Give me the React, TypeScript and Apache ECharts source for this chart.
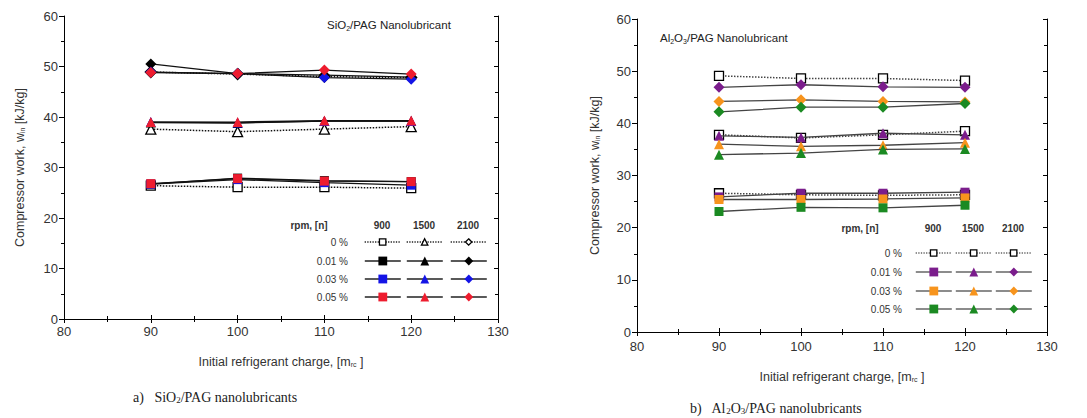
import React, { useEffect, useRef } from "react";
import * as echarts from "echarts";

const charges = [90, 100, 110, 120];
const rpmLabels = ["900", "1500", "2100"];
const concLabels = ["0 %", "0.01 %", "0.03 %", "0.05 %"];

// SiO2/PAG (left panel) compressor work [kJ/kg]
const sio2_0_900 = [26.4, 26.1, 26.1, 25.9];
const sio2_0_1500 = [37.6, 37.1, 37.6, 38.1];
const sio2_0_2100 = [48.9, 48.5, 48.0, 47.8];
const sio2_001_900 = [26.7, 27.9, 27.4, 27.2];
const sio2_001_1500 = [38.9, 38.8, 39.2, 39.2];
const sio2_001_2100 = [50.5, 48.6, 48.3, 47.9];
const sio2_003_900 = [26.7, 27.6, 27.0, 26.5];
const sio2_003_1500 = [39.0, 38.9, 39.2, 39.2];
const sio2_003_2100 = [48.9, 48.6, 47.8, 47.5];
const sio2_005_900 = [26.8, 27.8, 27.3, 27.2];
const sio2_005_1500 = [39.0, 39.0, 39.3, 39.3];
const sio2_005_2100 = [48.8, 48.6, 49.3, 48.5];

// Al2O3/PAG (right panel) compressor work [kJ/kg]
const al_0_900 = [26.6, 26.3, 26.2, 26.3];
const al_0_1500 = [37.8, 37.2, 37.8, 38.5];
const al_0_2100 = [49.1, 48.6, 48.6, 48.2];
const al_001_900 = [25.9, 26.6, 26.6, 26.8];
const al_001_1500 = [37.6, 37.3, 38.1, 37.8];
const al_001_2100 = [46.9, 47.4, 47.0, 46.9];
const al_003_900 = [25.4, 25.4, 25.5, 25.7];
const al_003_1500 = [36.0, 35.6, 35.8, 36.3];
const al_003_2100 = [44.2, 44.5, 44.2, 44.1];
const al_005_900 = [23.1, 23.9, 23.8, 24.3];
const al_005_1500 = [34.0, 34.3, 35.0, 35.1];
const al_005_2100 = [42.2, 43.1, 43.1, 43.8];

const FONT = "Liberation Sans";

export default function App() {
  const ref = useRef<HTMLDivElement>(null);
  useEffect(() => {
    if (!ref.current) return;
    const chart = echarts.init(ref.current, undefined, { renderer: "svg" });

    const series: any[] = [];
    const legends: any[] = [];

    const leftColors = ["#ffffff", "#000000", "#1414e6", "#ee1c2e"];
    const rightColors = ["#ffffff", "#7b1d8c", "#f7941d", "#1b8a22"];
    const syms = ["rect", "triangle", "diamond"];

    const leftData = [
      [sio2_0_900, sio2_0_1500, sio2_0_2100],
      [sio2_001_900, sio2_001_1500, sio2_001_2100],
      [sio2_003_900, sio2_003_1500, sio2_003_2100],
      [sio2_005_900, sio2_005_1500, sio2_005_2100],
    ];
    const rightData = [
      [al_0_900, al_0_1500, al_0_2100],
      [al_001_900, al_001_1500, al_001_2100],
      [al_003_900, al_003_1500, al_003_2100],
      [al_005_900, al_005_1500, al_005_2100],
    ];

    const leftLegendX = [382, 424, 468];
    const leftLegendY = [242, 261, 279, 297];
    const rightLegendX = [933, 973, 1013];
    const rightLegendY = [253, 272, 291, 309];

    const addPanel = (
      prefix: string,
      data: number[][][],
      colors: string[],
      hollowSyms: string[],
      lineColor: string,
      legendLineColor: string,
      grid: number,
      lx: number[],
      ly: number[],
      symSize: number
    ) => {
      data.forEach((row, ci) => {
        row.forEach((vals, ri) => {
          const hollow = ci === 0;
          const name = `${prefix} ${concLabels[ci]} ${rpmLabels[ri]}`;
          const sym = hollow ? hollowSyms[ri] : syms[ri];
          const ih = hollow ? 8 : 11;
          series.push({
            name,
            type: "line",
            xAxisIndex: grid * 2,
            yAxisIndex: grid * 2,
            data: charges.map((c, i) => [c, vals[i]]),
            symbol: sym,
            symbolSize: sym === "diamond" ? symSize + 2 : sym === "triangle" ? symSize + 1 : symSize,
            z: hollow ? 2 : 3 + ci,
            lineStyle: {
              color: lineColor,
              width: hollow ? 1.5 : 1.3,
              type: hollow ? "dotted" : "solid",
            },
            itemStyle: {
              color: colors[ci],
              borderColor: hollow ? "#000" : colors[ci],
              borderWidth: hollow ? 1.3 : 0,
            },
            emphasis: { disabled: true },
          });
          legends.push({
            data: [name],
            left: lx[ri] - 18,
            top: ly[ci] - ih / 2,
            itemWidth: 36,
            itemHeight: ih,
            itemGap: 0,
            padding: 0,
            selectedMode: false,
            formatter: () => "",
            textStyle: { fontSize: 1 },
            itemStyle: hollow ? { borderWidth: 1.3 } : { borderWidth: 0 },
            lineStyle: {
              color: legendLineColor,
              width: hollow ? 1.3 : 1.6,
              type: hollow ? "dotted" : "solid",
            },
          });
        });
      });
    };

    addPanel("SiO2", leftData, leftColors, ["rect", "triangle", "diamond"], "#111", "#222", 0, leftLegendX, leftLegendY, 9);
    addPanel("Al2O3", rightData, rightColors, ["rect", "rect", "rect"], "#444", "#666", 1, rightLegendX, rightLegendY, 9);

    const axisLine = { show: true, lineStyle: { color: "#000", width: 1 } };
    const labelStyle = { color: "#333", fontSize: 13, fontFamily: FONT };
    const nameRich = {
      a: { fontSize: 12.5, color: "#333", fontFamily: FONT },
      s: { fontSize: 7, color: "#333", fontFamily: FONT, verticalAlign: "bottom", padding: [6, 0, 0, 0] },
    };

    const mkX = (grid: number, margin: number, nameGap: number) => [
      {
        type: "value",
        gridIndex: grid,
        min: 80,
        max: 130,
        interval: 10,
        axisLine,
        axisTick: { show: true, inside: true, length: 4, lineStyle: { color: "#000" } },
        minorTick: { show: true, splitNumber: 2, length: 3, lineStyle: { color: "#000" } },
        axisLabel: { ...labelStyle, margin },
        splitLine: { show: false },
        name: "{a|Initial refrigerant charge, [m}{s|rc}{a| ]}",
        nameLocation: "middle",
        nameGap,
        nameTextStyle: { rich: nameRich },
      },
      {
        type: "value",
        gridIndex: grid,
        position: "top",
        min: 80,
        max: 130,
        interval: 10,
        axisLine,
        axisTick: { show: true, inside: true, length: 4, lineStyle: { color: "#000" } },
        minorTick: { show: true, splitNumber: 2, length: 3, lineStyle: { color: "#000" } },
        axisLabel: { show: false },
        splitLine: { show: false },
      },
    ];

    const mkY = (grid: number, nameGap: number) => [
      {
        type: "value",
        gridIndex: grid,
        min: 0,
        max: 60,
        interval: 10,
        axisLine,
        axisTick: { show: true, inside: false, length: 5, lineStyle: { color: "#000" } },
        minorTick: { show: true, splitNumber: 2, length: 3, lineStyle: { color: "#000" } },
        axisLabel: { ...labelStyle, margin: 6 },
        splitLine: { show: false },
        name: "{a|Compressor work, w}{s|in}{a| [kJ/kg]}",
        nameLocation: "middle",
        nameGap,
        nameTextStyle: { rich: nameRich },
      },
      {
        type: "value",
        gridIndex: grid,
        position: "right",
        min: 0,
        max: 60,
        interval: 10,
        axisLine,
        axisTick: { show: true, inside: true, length: 4, lineStyle: { color: "#000" } },
        minorTick: { show: true, splitNumber: 2, length: 3, lineStyle: { color: "#000" } },
        axisLabel: { show: false },
        splitLine: { show: false },
      },
    ];

    const lx = mkX(0, 6, 36);
    const rx = mkX(1, 8, 38);
    const ly = mkY(0, 38);
    const ry = mkY(1, 36);

    const smallText = (x: number, y: number, text: string, align: string, bold = false) => ({
      type: "text",
      x,
      y,
      style: {
        text,
        fontSize: 10,
        fontWeight: bold ? "bold" : "normal",
        fontFamily: FONT,
        fill: "#333",
        align,
        verticalAlign: "middle",
      },
    });

    const richLabel = (x: number, y: number, text: string, serif: boolean) => ({
      type: "text",
      x,
      y,
      style: {
        text,
        rich: serif
          ? {
              a: { fontSize: 14, fontFamily: "Liberation Serif", fill: "#222" },
              s: { fontSize: 9, fontFamily: "Liberation Serif", fill: "#222", padding: [5, 0, 0, 0] },
            }
          : {
              a: { fontSize: 11.5, fontFamily: FONT, fill: "#222" },
              s: { fontSize: 7, fontFamily: FONT, fill: "#222", padding: [6, 0, 0, 0] },
            },
        verticalAlign: "middle",
      },
    });

    const graphic: any[] = [
      richLabel(327, 25, "{a|SiO}{s|2}{a|/PAG Nanolubricant}", false),
      richLabel(660, 38, "{a|Al}{s|2}{a|O}{s|3}{a|/PAG Nanolubricant}", false),
      richLabel(133, 397, "{a|a)   SiO}{s|2}{a|/PAG nanolubricants}", true),
      richLabel(690, 408, "{a|b)   Al}{s|2}{a|O}{s|3}{a|/PAG nanolubricants}", true),
      smallText(309, 225, "rpm, [n]", "center", true),
      smallText(860, 228, "rpm, [n]", "center", true),
    ];
    rpmLabels.forEach((r, i) => {
      graphic.push(smallText(leftLegendX[i], 225, r, "center", true));
      graphic.push(smallText(rightLegendX[i], 228, r, "center", true));
    });
    concLabels.forEach((c, i) => {
      graphic.push(smallText(348, leftLegendY[i], c, "right"));
      graphic.push(smallText(902, rightLegendY[i], c, "right"));
    });

    chart.setOption({
      animation: false,
      backgroundColor: "#fff",
      grid: [
        { left: 64, top: 16, width: 434, height: 303 },
        { left: 637, top: 19, width: 410, height: 313 },
      ],
      xAxis: [lx[0], lx[1], rx[0], rx[1]],
      yAxis: [ly[0], ly[1], ry[0], ry[1]],
      legend: legends,
      series,
      graphic,
    });
    return () => chart.dispose();
  }, []);
  return (
    <div
      ref={ref}
      style={{ position: "absolute", left: 0, top: 0, width: 1087, height: 418 }}
    />
  );
}
